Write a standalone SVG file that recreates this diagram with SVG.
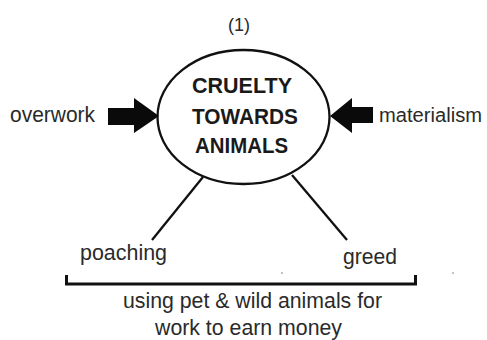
<svg xmlns="http://www.w3.org/2000/svg" width="487" height="340" viewBox="0 0 487 340">
<style>
.t{font-family:"Liberation Sans",Arial,sans-serif;font-size:22px;fill:#2a2a2a}
.b{font-family:"Liberation Sans",Arial,sans-serif;font-size:22px;font-weight:bold;fill:#1a1a1a}
.ln{stroke:#111;stroke-width:2.3;fill:none}
.ar{fill:#0a0a0a}
</style>
<rect width="487" height="340" fill="#fff"/>
<text class="t" x="228" y="31" style="font-size:19px" textLength="22" lengthAdjust="spacingAndGlyphs">(1)</text>
<g id="center">
<ellipse cx="243.5" cy="117" rx="86" ry="67" class="ln"/>
<text class="b" x="192" y="93" textLength="100" lengthAdjust="spacingAndGlyphs">CRUELTY</text>
<text class="b" x="192" y="124" textLength="106" lengthAdjust="spacingAndGlyphs">TOWARDS</text>
<text class="b" x="195" y="153" textLength="93" lengthAdjust="spacingAndGlyphs">ANIMALS</text>
</g>
<g id="overwork">
<text class="t" x="10" y="122" textLength="85" lengthAdjust="spacingAndGlyphs">overwork</text>
</g>
<g id="materialism">
<text class="t" x="379" y="122" style="font-size:20px" textLength="103" lengthAdjust="spacingAndGlyphs">materialism</text>
</g>
<g id="poaching">
<text class="t" x="80" y="260" textLength="87" lengthAdjust="spacingAndGlyphs">poaching</text>
</g>
<g id="greed">
<text class="t" x="343" y="264" textLength="54" lengthAdjust="spacingAndGlyphs">greed</text>
</g>
<g id="money">
<text class="t" x="123" y="308" textLength="259" lengthAdjust="spacingAndGlyphs">using pet &amp; wild animals for</text>
<text class="t" x="155" y="335" textLength="187" lengthAdjust="spacingAndGlyphs">work to earn money</text>
</g>
<g id="connectors">
<polygon class="ar" points="108,108 134,108 134,98 159,116 134,133 134,125 108,125"/>
<polygon class="ar" points="373,107 352,107 352,98 330,116 352,133 352,123 373,123"/>
<line class="ln" x1="203" y1="177" x2="152" y2="240"/>
<line class="ln" x1="292" y1="175" x2="347" y2="240"/>
<path d="M66.5,275 V284 H415.5 V275" stroke="#111" stroke-width="3" fill="none"/>
<circle cx="282" cy="273" r="0.8" fill="#777"/>
<circle cx="453" cy="273" r="0.8" fill="#777"/>
</g>
</svg>
